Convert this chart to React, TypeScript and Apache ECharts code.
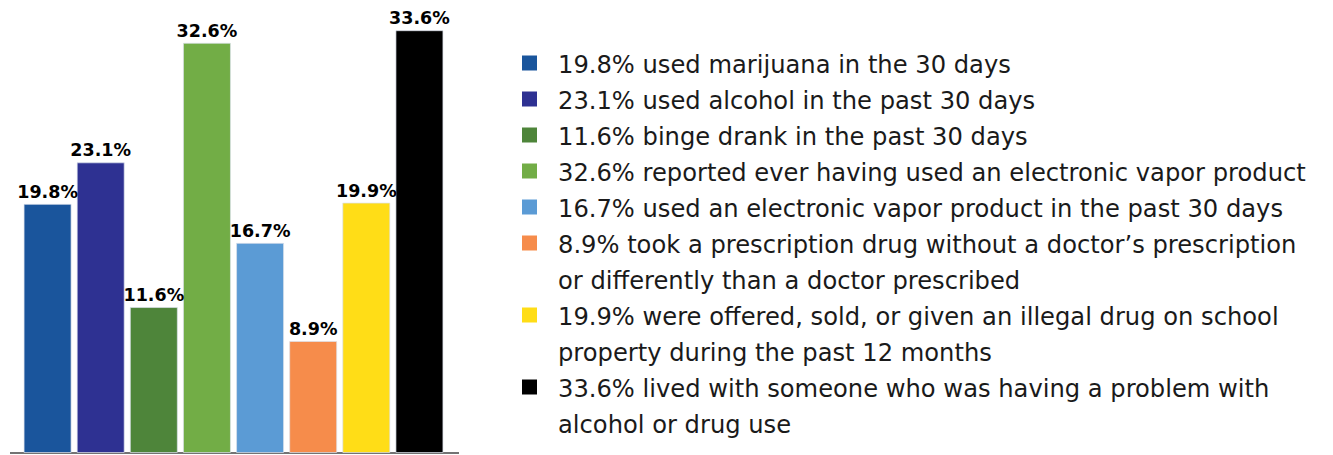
import React, { useEffect, useRef } from "react";
import * as echarts from "echarts";

const categories = [
  "Marijuana",
  "Alcohol",
  "Binge drinking",
  "Ever vaped",
  "Vaped past 30 days",
  "Prescription drug misuse",
  "Offered illegal drug",
  "Lived with problem user",
];
const values = [19.8, 23.1, 11.6, 32.6, 16.7, 8.9, 19.9, 33.6];
const colors = ["#1a559c", "#2e3192", "#4e853a", "#72ad46", "#5b9bd5", "#f68c4b", "#ffdd17", "#000000"];
const legendLabels = [
  "19.8% used marijuana in the 30 days",
  "23.1% used alcohol in the past 30 days",
  "11.6% binge drank in the past 30 days",
  "32.6% reported ever having used an electronic vapor product",
  "16.7% used an electronic vapor product in the past 30 days",
  "8.9% took a prescription drug without a doctor\u2019s prescription\nor differently than a doctor prescribed",
  "19.9% were offered, sold, or given an illegal drug on school\nproperty during the past 12 months",
  "33.6% lived with someone who was having a problem with\nalcohol or drug use",
];

export default function App() {
  const ref = useRef<HTMLDivElement>(null);
  useEffect(() => {
    if (!ref.current) return;
    const chart = echarts.init(ref.current, null, { renderer: "svg" });
    const lineH = 36;
    const firstCenter = 63;
    const graphics: any[] = [];
    let line = 0;
    legendLabels.forEach((lab, i) => {
      const cy = firstCenter + line * lineH;
      graphics.push({
        type: "rect",
        shape: { x: 522, y: cy - 7.5, width: 15, height: 15 },
        style: { fill: colors[i] },
      });
      graphics.push({
        type: "text",
        x: 558,
        y: cy - lineH / 2 + 1.5,
        style: {
          text: lab,
          font: "24.2px 'DejaVu Sans'",
          lineHeight: lineH,
          fill: "#1a1a1a",
          verticalAlign: "top",
        },
      });
      line += lab.split("\n").length;
    });
    graphics.push({
      type: "line",
      shape: { x1: 10, y1: 453, x2: 459, y2: 453 },
      style: { stroke: "#444", lineWidth: 1.5 },
    });
    chart.setOption({
      animation: false,
      grid: { left: 21, width: 425, top: 0, bottom: 2 },
      xAxis: {
        type: "category",
        data: categories,
        axisLine: { show: false },
        axisTick: { show: false },
        axisLabel: { show: false },
      },
      yAxis: {
        type: "value",
        min: 0,
        max: 36,
        show: false,
        splitLine: { show: false },
      },
      series: [
        {
          type: "bar",
          barWidth: 48,
          data: values.map((v, i) => ({
            value: v,
            itemStyle: { color: colors[i], borderColor: "rgba(220,225,235,0.7)", borderWidth: 1 },
          })),
          label: {
            show: true,
            position: "top",
            distance: 3,
            formatter: (p: any) => p.value.toFixed(1) + "%",
            fontFamily: "DejaVu Sans",
            fontWeight: "bold",
            fontSize: 17.5,
            color: "#000",
          },
        },
      ],
      graphic: graphics,
    });
    return () => chart.dispose();
  }, []);
  return (
    <div
      ref={ref}
      style={{ position: "fixed", left: 0, top: 0, width: 1333, height: 455, background: "#fff" }}
    />
  );
}
